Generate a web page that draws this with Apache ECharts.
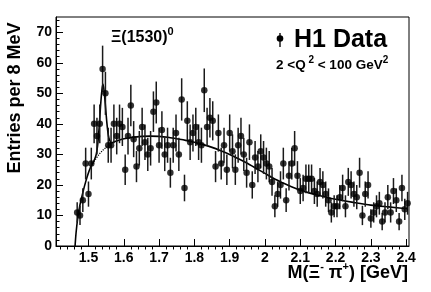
<!DOCTYPE html>
<html>
<head>
<meta charset="utf-8">
<script src="https://cdn.jsdelivr.net/npm/echarts@6/dist/echarts.min.js"></script>
<style>
html,body{margin:0;padding:0;background:#fff;}
#c{width:431px;height:292px;}
</style>
</head>
<body>
<div id="c"></div>
<script>
// Bin centres (GeV), 8 MeV bins
const mass = [
1.468,1.476,1.484,1.492,1.500,1.508,1.516,1.524,1.532,1.540,
1.548,1.556,1.564,1.572,1.580,1.588,1.596,1.604,1.612,1.620,
1.628,1.636,1.644,1.652,1.660,1.668,1.676,1.684,1.692,1.700,
1.708,1.716,1.724,1.732,1.740,1.748,1.756,1.764,1.772,1.780,
1.788,1.796,1.804,1.812,1.820,1.828,1.836,1.844,1.852,1.860,
1.868,1.876,1.884,1.892,1.900,1.908,1.916,1.924,1.932,1.940,
1.948,1.956,1.964,1.972,1.980,1.988,1.996,2.004,2.012,2.020,
2.028,2.036,2.044,2.052,2.060,2.068,2.076,2.084,2.092,2.100,
2.108,2.116,2.124,2.132,2.140,2.148,2.156,2.164,2.172,2.180,
2.188,2.196,2.204,2.212,2.220,2.228,2.236,2.244,2.252,2.260,
2.268,2.276,2.284,2.292,2.300,2.308,2.316,2.324,2.332,2.340,
2.348,2.356,2.364,2.372,2.380,2.388,2.396,2.404];
// Entries per bin
const counts = [
11,10,15,27,17,27,40,36,40,58,
50,33,33,40,36,40,39,25,36,46,
35,26,32,39,34,30,32,44,47,33,
38,30,33,24,33,37,30,48,19,41,
34,37,39,34,33,51,39,42,41,26,
37,27,33,25,37,31,25,33,36,30,
24,34,20,29,26,31,29,27,26,21,
13,17,20,27,15,23,27,32,23,18,
19,22,22,22,18,17,21,20,17,15,
11,13,13,16,19,13,21,20,17,16,
24,10,17,20,9,11,13,14,8,11,
16,11,18,15,8,19,12,14];
// Fit curve (signal + background)
const fitX = [1.462,1.465,1.470,1.476,1.484,1.492,1.500,1.506,1.512,1.518,1.522,1.526,1.530,1.534,1.538,1.541,1.544,1.548,1.552,1.556,1.560,1.566,1.575,1.590,1.600,1.625,1.650,1.675,1.700,1.725,1.750,1.775,1.800,1.825,1.850,1.875,1.900,1.925,1.950,1.975,2.000,2.025,2.050,2.075,2.100,2.125,2.150,2.175,2.200,2.250,2.300,2.350,2.404];
const fitY = [0,4.5,9.5,13.5,17.5,21,24,25.8,27.1,28.6,30,33,38.5,45.5,51,53,51,46,40.5,36.5,34.6,33.8,34.2,34.8,35.1,35.6,35.9,36,35.9,35.6,35.1,34.6,34,33.2,32.3,31.2,30,28.6,27.1,25.4,23.8,22.1,20.7,19.4,18.3,17.4,16.6,15.9,15.3,14.3,13.4,12.8,12.2];
// Background-only curve under the peak (dotted)
const bgX = [1.505,1.512,1.520,1.530,1.540,1.550,1.560,1.566];
const bgY = [25.6,27,28.4,30,31.3,32.3,33.2,33.7];
// Axis ticks
const xMajor = [1.5,1.6,1.7,1.8,1.9,2.0,2.1,2.2,2.3,2.4];
const yMajor = [0,10,20,30,40,50,60,70];

const xMinor = [];
for (let v = 1.42; v < 2.405; v += 0.02) {
  const r = Math.round(v*100)/100;
  if (Math.abs(r*10 - Math.round(r*10)) > 1e-6) xMinor.push(r);
}
const yMinor = [];
for (let v = 2; v < 75; v += 2) if (v % 10 !== 0) yMinor.push(v);

const pts = mass.map((m,i)=>[m,counts[i]]);
const errs = mass.map((m,i)=>[m,counts[i],Math.sqrt(counts[i])]);
const fit = fitX.map((x,i)=>[x,fitY[i]]);
const bg = bgX.map((x,i)=>[x,bgY[i]]);

const FONT = '"Liberation Sans", Arial, Helvetica, sans-serif';
const mctx = document.createElement('canvas').getContext('2d');
function textW(t, size){ mctx.font = 'bold '+size+'px '+FONT; return mctx.measureText(t).width; }
// parts: [text, isSup]; builds text pieces with raised superscripts
function richText(x, y, parts, size, supSize, align){
  const ws = parts.map(p=>textW(p[0], p[1]?supSize:size));
  const total = ws.reduce((a,b)=>a+b,0);
  let cx = align==='right' ? x-total : x;
  const out = [];
  parts.forEach((p,i)=>{
    out.push({type:'text', x:cx, y: p[1] ? y-0.36*size : y, z:10,
      style:{text:p[0], fill:'#000', font:'bold '+(p[1]?supSize:size)+'px '+FONT, align:'left', verticalAlign:'middle'}});
    cx += ws[i];
  });
  return out;
}

const chart = echarts.init(document.getElementById('c'), null, {renderer:'canvas'});
const xBase = {type:'value', min:1.408, max:2.408, splitLine:{show:false}};
const yBase = {type:'value', min:0, max:75, splitLine:{show:false}};
const graphics = [
  {type:'text', x:15, y:98, rotation:Math.PI/2, style:{text:'Entries per 8 MeV', fill:'#000',
    font:'bold 18px '+FONT, align:'center', verticalAlign:'middle'}},
  {type:'line', shape:{x1:280, y1:33, x2:280, y2:47}, style:{stroke:'#1a1a1a', lineWidth:1.5}},
  {type:'circle', shape:{cx:280, cy:38.5, r:3.3}, style:{fill:'#000'}},
  {type:'text', x:294, y:40, style:{text:'H1 Data', fill:'#000', font:'bold 25px '+FONT, align:'left', verticalAlign:'middle'}}
].concat(
  richText(408, 273, [['M(Ξ',0],['-',1],[' π',0],['+',1],[') [GeV]',0]], 18, 11, 'right'),
  richText(111, 38, [['Ξ(1530)',0],['0',1]], 16, 11, 'left'),
  richText(276, 65, [['2 <Q',0],[' 2',1],[' < 100 GeV',0],['2',1]], 13.5, 10, 'left')
);

chart.setOption({
  animation:false,
  backgroundColor:'#fff',
  grid:{left:56, right:22, top:17, bottom:46, show:true, borderColor:'#000', borderWidth:1, backgroundColor:'transparent'},
  xAxis:[
    Object.assign({}, xBase, {
      axisLine:{show:true, lineStyle:{color:'#000', width:1}},
      axisTick:{show:true, inside:true, length:7, customValues:xMajor, lineStyle:{color:'#000'}},
      axisLabel:{show:true, customValues:xMajor, margin:5, color:'#000', fontFamily:FONT, fontWeight:'bold', fontSize:14,
        formatter:v=> (Math.abs(v-2)<1e-9 ? '2' : String(Math.round(v*10)/10))}
    }),
    Object.assign({}, xBase, {
      axisLine:{show:false},
      axisTick:{show:true, inside:true, length:3.5, customValues:xMinor, lineStyle:{color:'#000'}},
      axisLabel:{show:false}
    })
  ],
  yAxis:[
    Object.assign({}, yBase, {
      axisLine:{show:true, lineStyle:{color:'#000', width:1}},
      axisTick:{show:true, inside:true, length:7, customValues:yMajor, lineStyle:{color:'#000'}},
      axisLabel:{show:true, customValues:yMajor, margin:4, color:'#000', fontFamily:FONT, fontWeight:'bold', fontSize:14}
    }),
    Object.assign({}, yBase, {
      position:'left',
      axisLine:{show:false},
      axisTick:{show:true, inside:true, length:3.5, customValues:yMinor, lineStyle:{color:'#000'}},
      axisLabel:{show:false}
    })
  ],
  series:[
    {type:'line', data:fit, showSymbol:false, smooth:0.3,
      lineStyle:{color:'#000', width:1.6}, silent:true, z:2},
    {type:'line', data:bg, showSymbol:false, smooth:0.3,
      lineStyle:{color:'#000', width:1.2, type:'dotted'}, silent:true, z:2},
    {type:'custom', data:errs, z:3, silent:true,
      renderItem:function(params, api){
        const x=api.value(0), y=api.value(1), e=api.value(2);
        const a=api.coord([x,y-e]), b=api.coord([x,y+e]);
        return {type:'line', shape:{x1:a[0],y1:a[1],x2:b[0],y2:b[1]}, style:{stroke:'#1a1a1a', lineWidth:1.5}};
      }},
    {type:'scatter', data:pts, symbol:'circle', symbolSize:6.5, itemStyle:{color:'#000'}, z:4, silent:true}
  ],
  graphic:graphics
});
</script>
</body>
</html>
